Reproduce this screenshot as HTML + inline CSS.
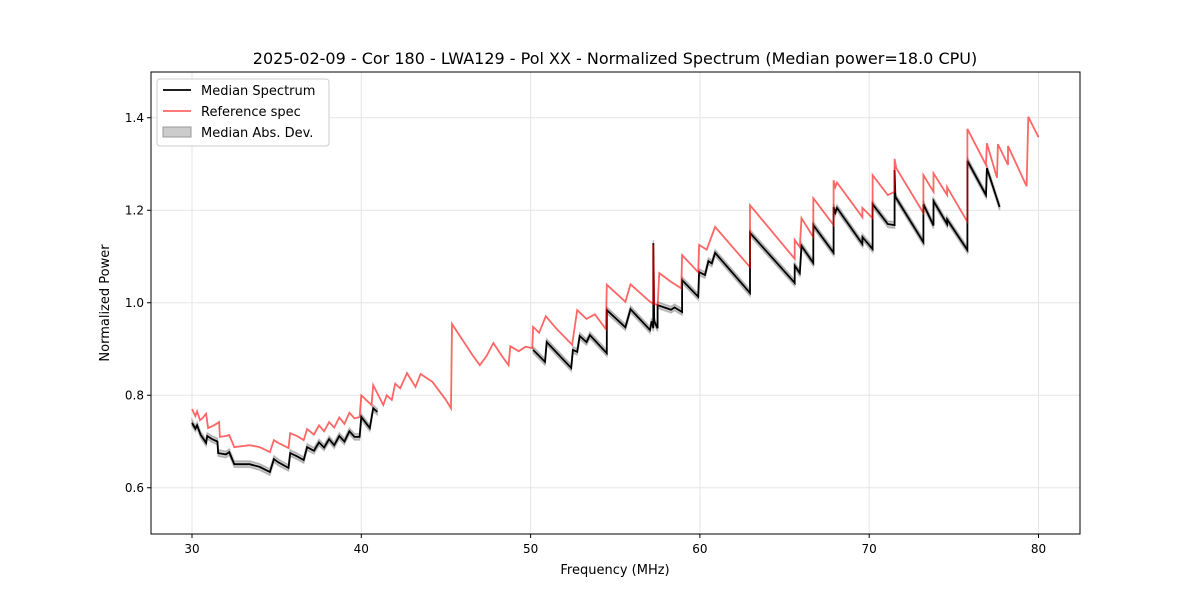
<!DOCTYPE html>
<html><head><meta charset="utf-8"><style>
body{margin:0;background:#fff;font-family:"Liberation Sans","DejaVu Sans",sans-serif}
svg text{font-family:"DejaVu Sans","Liberation Sans",sans-serif}
</style></head><body>
<svg id="chart" width="1200" height="600" xmlns="http://www.w3.org/2000/svg">
<rect width="1200" height="600" fill="#fff"/>
<text x="615" y="64" font-size="16" text-anchor="middle">2025-02-09 - Cor 180 - LWA129 - Pol XX - Normalized Spectrum (Median power=18.0 CPU)</text>
<g id="grid"></g><g id="band"></g><g id="lines"></g><g id="axes"></g>
<text x="615" y="574" font-size="13" text-anchor="middle">Frequency (MHz)</text>
<text x="109" y="303" font-size="13" text-anchor="middle" transform="rotate(-90 109 303)">Normalized Power</text>
<g>
<rect x="157" y="79" width="172" height="67" fill="#fff" stroke="#ccc" rx="3"/>
<line x1="163" y1="90" x2="191" y2="90" stroke="#000" stroke-width="1.8"/>
<text x="201" y="95" font-size="13">Median Spectrum</text>
<line x1="163" y1="111" x2="191" y2="111" stroke="#ff6666" stroke-width="1.8"/>
<text x="201" y="116" font-size="13">Reference spec</text>
<rect x="163" y="127" width="28" height="10" fill="#ccc" stroke="#999"/>
<text x="201" y="137" font-size="13">Median Abs. Dev.</text>
</g>
</svg>
<script>
const xTicks=[30,40,50,60,70,80];
const yTicks=[0.6,0.8,1.0,1.2,1.4];
const refFreq=[30.0,30.2,30.3,30.47,30.6,30.83,30.95,31.3,31.6,31.65,32.0,32.2,32.5,33.4,34.0,34.6,34.84,35.1,35.7,35.8,36.2,36.6,36.8,37.2,37.5,37.8,38.1,38.4,38.7,39.0,39.3,39.6,39.9,40.0,40.6,40.7,41.3,41.5,41.8,42.0,42.3,42.7,43.2,43.5,44.2,45.0,45.3,45.36,46.6,47.0,47.4,47.8,48.3,48.7,48.8,49.3,49.7,50.1,50.15,50.5,50.9,51.5,52.45,52.75,53.3,53.8,54.45,54.5,55.6,55.9,57.05,57.25,57.25,57.3,57.5,57.6,58.3,58.9,58.95,59.9,59.95,60.4,60.9,62.96,62.96,65.6,65.6,65.9,66.0,66.7,66.7,67.9,67.9,68.0,68.1,69.6,69.6,70.2,70.2,71.1,71.5,71.5,71.6,73.2,73.2,73.8,73.8,74.6,74.6,75.8,75.8,76.9,76.95,77.55,77.6,78.2,78.2,79.3,79.4,80.0];
const refPow=[.770,.755,.765,.746,.75,.760,.729,.735,.742,.710,.712,.714,.688,.692,.688,.677,.703,.697,.686,.718,.712,.703,.727,.715,.735,.722,.742,.73,.752,.738,.762,.75,.753,.80,.779,.822,.779,.80,.79,.825,.815,.848,.818,.846,.829,.79,.772,.954,.885,.865,.885,.913,.885,.865,.906,.895,.905,.902,.948,.935,.971,.945,.909,.984,.965,.975,.943,1.039,1.002,1.04,1.002,.998,1.125,.998,.995,1.064,1.045,1.031,1.103,1.066,1.125,1.115,1.164,1.077,1.211,1.095,1.136,1.12,1.183,1.142,1.226,1.168,1.265,1.25,1.26,1.185,1.205,1.183,1.276,1.233,1.24,1.311,1.291,1.194,1.276,1.24,1.28,1.233,1.25,1.175,1.376,1.298,1.345,1.27,1.343,1.298,1.339,1.252,1.402,1.358];
const medFreqA=[30.0,30.2,30.3,30.5,30.83,30.9,31.2,31.5,31.55,32.0,32.2,32.5,33.4,34.0,34.6,34.84,35.1,35.7,35.8,36.2,36.6,36.8,37.2,37.5,37.8,38.1,38.4,38.7,39.0,39.3,39.6,39.9,40.0,40.5,40.7,40.95];
const medPowA=[.740,.728,.735,.715,.697,.712,.705,.70,.675,.672,.677,.651,.651,.645,.634,.662,.655,.643,.675,.668,.66,.688,.68,.698,.687,.705,.692,.712,.70,.722,.71,.71,.753,.729,.772,.764];
const medFreqB=[50.15,50.5,50.85,50.95,52.4,52.5,52.75,52.9,53.3,53.5,54.5,54.5,55.6,55.9,57.05,57.15,57.25,57.25,57.3,57.5,57.5,58.3,58.5,58.95,58.95,59.9,59.95,60.3,60.5,60.7,60.9,62.96,62.96,65.6,65.6,65.9,66.0,66.7,66.7,67.9,67.9,68.0,68.1,69.6,69.6,70.2,70.2,71.1,71.5,71.5,71.55,73.2,73.2,73.8,73.8,74.6,74.6,75.8,75.8,76.9,76.95,77.7];
const medPowB=[.898,.885,.872,.915,.859,.898,.894,.928,.915,.93,.891,.984,.947,.986,.941,.96,.945,1.129,.96,.945,.995,.985,.99,.98,1.049,1.013,1.066,1.06,1.09,1.085,1.108,1.021,1.151,1.043,1.08,1.064,1.123,1.086,1.168,1.108,1.207,1.195,1.205,1.127,1.142,1.116,1.213,1.17,1.168,1.287,1.229,1.131,1.213,1.167,1.22,1.17,1.18,1.114,1.307,1.233,1.291,1.207];
const madDev=[0.007];

const NS="http://www.w3.org/2000/svg";
const X0=151,X1=1080,Y0=72,Y1=534;
const xs=f=>192+(f-30)*16.93;
const ys=p=>534-(p-0.5)*462.5;
const g=id=>document.getElementById(id);
function mk(tag,attrs,parent){const e=document.createElementNS(NS,tag);for(const k in attrs)e.setAttribute(k,attrs[k]);parent.appendChild(e);return e;}
xTicks.forEach(t=>{
 const l=mk('line',{x1:xs(t),x2:xs(t),y1:Y0,y2:Y1,stroke:'#e5e5e5','stroke-width':1},g('grid'));
 
 
 mk('line',{x1:xs(t),x2:xs(t),y1:Y1,y2:Y1+4,stroke:'#000'},g('axes'));
 const tx=mk('text',{x:xs(t),y:Y1+19,'font-size':12,'text-anchor':'middle'},g('axes'));
 tx.textContent=t;
 
 
});
yTicks.forEach(t=>{
 const l=mk('line',{x1:X0,x2:X1,y1:ys(t),y2:ys(t),stroke:'#e5e5e5','stroke-width':1},g('grid'));
 
 
 mk('line',{x1:X0-4,x2:X0,y1:ys(t),y2:ys(t),stroke:'#000'},g('axes'));
 const tx=mk('text',{x:X0-7,y:ys(t)+4,'font-size':12,'text-anchor':'end'},g('axes'));
 tx.textContent=t.toFixed(1);
 
 
});
const fr=mk('rect',{x:X0,y:Y0,width:X1-X0,height:Y1-Y0,fill:'none',stroke:'#000','stroke-width':1},g('axes'));


function pts(F,P,off){return F.map((f,i)=>xs(f).toFixed(1)+','+ys(P[i]+off).toFixed(1));}
[[medFreqA,medPowA],[medFreqB,medPowB]].forEach(([F,P])=>{
 const up=pts(F,P,madDev[0]),dn=pts(F,P,-madDev[0]).reverse();
 const b=mk('polygon',{points:up.concat(dn).join(' '),fill:'#000','fill-opacity':0.2,stroke:'#000','stroke-opacity':0.2,'stroke-width':1.5},g('band'));
 
 
 const l=mk('polyline',{points:pts(F,P,0).join(' '),fill:'none',stroke:'#000','stroke-width':1.8},g('lines'));
 
 
});
const r=mk('polyline',{points:pts(refFreq,refPow,0).join(' '),fill:'none',stroke:'#ff0000','stroke-opacity':0.6,'stroke-width':1.8},g('lines'));


</script>
</body></html>
